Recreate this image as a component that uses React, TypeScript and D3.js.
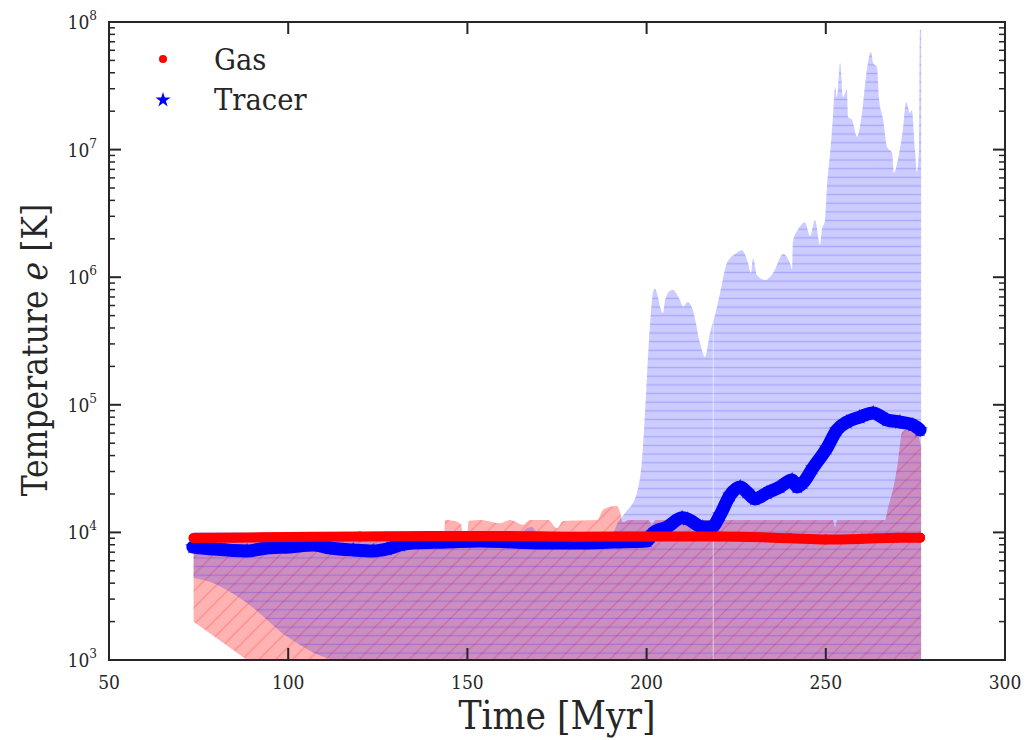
import React from 'react';
import * as d3 from 'd3';

// ---------- data ----------
const GAS_TIME = [73.6, 85, 100, 120, 140, 160, 180, 200, 220, 240, 250, 260, 270, 276.3];
const GAS_TEMP = [9040, 9100, 9200, 9300, 9370, 9370, 9250, 9300, 9300, 9000, 8800, 8900, 9100, 9100];

const TRACER_TIME = [73.4, 79.0, 88.5, 94.1, 100.5, 106.9, 111.7, 118.1, 123.7, 127.6, 131.2, 134.8, 144.3, 153.5, 162.7, 172.2, 181.4, 190.6, 200.1, 201.8, 205.7, 209.9, 211.5, 215.7, 218.2, 220.5, 223.3, 226.1, 228.0, 230.2, 233.6, 237.2, 240.6, 242.0, 243.6, 246.4, 250.3, 253.1, 255.9, 259.5, 263.2, 267.1, 270.7, 274.3, 276.3];
const TRACER_TEMP = [7690, 7410, 7150, 7550, 7690, 7960, 7550, 7280, 7150, 7410, 7960, 8260, 8410, 8570, 8410, 8260, 8260, 8410, 8570, 9890, 11000, 13000, 12700, 11000, 11000, 13700, 19600, 22700, 20700, 18300, 20400, 22700, 25800, 22700, 24400, 32000, 45800, 63500, 73300, 80200, 86300, 76000, 73300, 69500, 63500];

const GAS_MAX_TIME = [73.6, 143.5, 143.8, 146.5, 148.3, 148.6, 150.0, 150.3, 153.5, 159.1, 161.9, 165.5, 167.5, 172.5, 175.0, 176.7, 186.2, 187.8, 189.5, 191.7, 192.7, 193.3, 195.0, 200.5, 201.5, 202.5, 252.0, 252.6, 253.2, 266.5, 267.4, 268.5, 270.1, 271.3, 272.1, 275.4, 276.6];
const GAS_MAX = [10000, 10000, 12500, 12300, 11500, 10000, 10000, 12300, 12500, 11800, 12500, 11500, 12500, 12500, 10800, 12300, 12500, 15000, 15800, 16100, 14000, 12000, 12500, 12500, 11500, 12500, 12500, 11000, 12500, 12500, 15800, 20400, 35000, 61200, 63500, 60100, 46700];
const GAS_MIN_TIME = [73.6, 88.5, 100, 276.6];
const GAS_MIN = [1990, 1000, 590, 500];

const TRACER_MAX_TIME = [73.6, 165.0, 166.5, 168.0, 169.5, 190.5, 192.0, 194.0, 197.3, 198.7, 199.6, 200.9, 201.8, 202.3, 204.6, 205.1, 206.5, 207.3, 209.3, 210.2, 211.5, 212.9, 214.9, 216.3, 217.7, 219.1, 220.5, 222.4, 224.7, 226.6, 228.3, 229.1, 229.7, 230.8, 233.0, 235.3, 238.1, 240.0, 240.6, 240.8, 242.2, 244.2, 245.6, 247.0, 248.4, 248.9, 249.8, 250.3, 251.2, 252.0, 252.6, 253.1, 254.0, 254.8, 255.9, 256.2, 257.3, 258.7, 260.1, 261.2, 262.6, 263.2, 264.3, 264.8, 266.0, 267.1, 268.5, 269.0, 270.1, 271.5, 272.4, 273.5, 274.0, 274.9, 275.4, 276.0, 276.25, 276.6];
const TRACER_MAX = [10000, 10000, 10800, 11000, 10000, 10000, 12000, 14200, 20400, 36900, 91000, 407000, 766000, 809000, 524000, 650000, 780000, 794000, 663000, 590000, 640000, 553000, 305000, 237000, 366000, 506000, 752000, 1290000, 1520000, 1630000, 1290000, 1080000, 1410000, 1040000, 951000, 1080000, 1520000, 1290000, 1150000, 1890000, 2340000, 2700000, 2100000, 2800000, 1790000, 2340000, 2810000, 5090000, 9400000, 18000000, 31000000, 25800000, 47700000, 25800000, 29300000, 18000000, 17100000, 12600000, 19400000, 37100000, 58200000, 47700000, 44400000, 25800000, 17100000, 10500000, 9400000, 6560000, 8290000, 14300000, 23600000, 19400000, 20400000, 9930000, 6670000, 9930000, 86500000, 86500000];
const TRACER_MIN_TIME = [73.6, 79.0, 83.8, 88.5, 93.2, 97.9, 102.5, 107.2, 111.8, 116.0, 125.0, 276.6];
const TRACER_MIN = [4390, 4020, 3410, 2800, 2170, 1660, 1360, 1135, 1018, 985, 850, 850];

const SEAM_TIME = 218.6;

const X_TICKS = [50, 100, 150, 200, 250, 300];
const Y_EXPONENTS = [3, 4, 5, 6, 7, 8];
const LEGEND_LABELS = ['Gas', 'Tracer'];

// ---------- layout ----------
const W = 1031;
const H = 740;
const L = 109, R = 1005, T = 22, B = 660;
const INK = '#262626';
const FONT = '"DejaVu Serif Condensed", "DejaVu Serif", serif';

export default function App() {
  const x = d3.scaleLinear().domain([50, 300]).range([L, R]);
  const y = d3.scaleLog().domain([1e3, 1e8]).range([B, T]);

  const smooth = d3.line<[number, number]>().curve(d3.curveMonotoneX);
  const band = (tu: number[], vu: number[], tl: number[], vl: number[]) => {
    const up: [number, number][] = tu.map((t, i) => [x(t), y(vu[i])]);
    const lo: [number, number][] = tl.map((t, i) => [x(t), y(vl[i])]).reverse() as [number, number][];
    const a = smooth(up) || '';
    const b = (smooth(lo) || '').replace(/^M/, 'L');
    return a + b + 'Z';
  };

  const gasBand = band(GAS_MAX_TIME, GAS_MAX, GAS_MIN_TIME, GAS_MIN);
  const tracerBand = band(TRACER_MAX_TIME, TRACER_MAX, TRACER_MIN_TIME, TRACER_MIN);

  const lineGen = d3.line<[number, number]>().x(d => x(d[0])).y(d => y(d[1])).curve(d3.curveMonotoneX);
  const gasPts: [number, number][] = GAS_TIME.map((t, i) => [t, GAS_TEMP[i]]);
  const trPts: [number, number][] = TRACER_TIME.map((t, i) => [t, TRACER_TEMP[i]]);

  const star = d3.symbol().type(d3.symbolStar).size(75)() || '';
  const starLegend = d3.symbol().type(d3.symbolStar).size(70)() || '';

  const seamIdx = d3.bisectLeft(TRACER_MAX_TIME, SEAM_TIME);
  const t0 = TRACER_MAX_TIME[seamIdx - 1], t1 = TRACER_MAX_TIME[seamIdx];
  const y0 = y(TRACER_MAX[seamIdx - 1]), y1 = y(TRACER_MAX[seamIdx]);
  const seamTop = y0 + ((SEAM_TIME - t0) / (t1 - t0)) * (y1 - y0);

  const minorTicks: number[] = [];
  for (let e = 3; e < 8; e++) for (let m = 2; m <= 9; m++) minorTicks.push(m * Math.pow(10, e));

  const hs = 16.7;

  return (
    <svg width={W} height={H} style={{ position: 'absolute', left: 0, top: 0, background: '#fff' }}>
      <defs>
        <clipPath id="plotClip">
          <rect x={L} y={T} width={R - L} height={B - T} />
        </clipPath>
        <pattern id="hatchRed" patternUnits="userSpaceOnUse" width={hs} height={hs}>
          <path d={`M0,${hs} L${hs},0 M${-hs / 4},${hs / 4} L${hs / 4},${-hs / 4} M${hs * 0.75},${hs * 1.25} L${hs * 1.25},${hs * 0.75}`}
            stroke="rgba(255,0,0,0.28)" strokeWidth={1} />
        </pattern>
        <pattern id="hatchBlue" patternUnits="userSpaceOnUse" width={20} height={8.65}>
          <line x1={0} x2={20} y1={4.3} y2={4.3} stroke="rgba(0,0,255,0.18)" strokeWidth={1.3} />
        </pattern>
      </defs>

      <g clipPath="url(#plotClip)">
        <path d={gasBand} fill="rgba(255,0,0,0.3)" />
        <path d={gasBand} fill="url(#hatchRed)" />
        <path d={tracerBand} fill="rgba(0,0,255,0.2)" />
        <path d={tracerBand} fill="url(#hatchBlue)" />
        <line x1={x(SEAM_TIME)} x2={x(SEAM_TIME)} y1={seamTop} y2={B} stroke="rgba(255,255,255,0.55)" strokeWidth={1} />

        {/* tracer */}
        <path d={lineGen(trPts) || ''} fill="none" stroke="#0000ff" strokeWidth={13} strokeLinejoin="round" strokeLinecap="round" />
        {trPts.map((p, i) => (
          <path key={'s' + i} d={star} transform={`translate(${x(p[0])},${y(p[1])})`} fill="#0000ff" />
        ))}
        {/* gas */}
        <path d={lineGen(gasPts) || ''} fill="none" stroke="#ff0000" strokeWidth={10} strokeLinejoin="round" strokeLinecap="round" />
        {gasPts.map((p, i) => (
          <circle key={'g' + i} cx={x(p[0])} cy={y(p[1])} r={5} fill="#ff0000" />
        ))}
      </g>

      {/* frame */}
      <rect x={L} y={T} width={R - L} height={B - T} fill="none" stroke={INK} strokeWidth={2} />

      {/* x ticks */}
      {X_TICKS.map(v => (
        <g key={'x' + v}>
          <line x1={x(v)} x2={x(v)} y1={B} y2={B - 12} stroke={INK} strokeWidth={2} />
          <line x1={x(v)} x2={x(v)} y1={T} y2={T + 12} stroke={INK} strokeWidth={2} />
          <text x={x(v)} y={689} textAnchor="middle" fontFamily={FONT} fontSize={19} fill={INK}>{v}</text>
        </g>
      ))}

      {/* y ticks */}
      {Y_EXPONENTS.map(e => {
        const yy = y(Math.pow(10, e));
        return (
          <g key={'y' + e}>
            <line x1={L} x2={L + 12} y1={yy} y2={yy} stroke={INK} strokeWidth={2} />
            <line x1={R} x2={R - 12} y1={yy} y2={yy} stroke={INK} strokeWidth={2} />
            <text x={97} y={yy + 7} textAnchor="end" fontFamily={FONT} fontSize={19} fill={INK}>
              10<tspan fontSize={13.5} dy={-9}>{e}</tspan>
            </text>
          </g>
        );
      })}
      {minorTicks.map((v, i) => (
        <g key={'m' + i}>
          <line x1={L} x2={L + 6} y1={y(v)} y2={y(v)} stroke={INK} strokeWidth={1.5} />
          <line x1={R} x2={R - 6} y1={y(v)} y2={y(v)} stroke={INK} strokeWidth={1.5} />
        </g>
      ))}

      {/* axis labels */}
      <text x={(L + R) / 2} y={729} textAnchor="middle" fontFamily={FONT} fontSize={38.5} fill={INK}>Time [Myr]</text>
      <text transform={`translate(47,350) rotate(-90)`} textAnchor="middle" fontFamily={FONT} fontSize={35} fill={INK}>
        Temperature <tspan fontStyle="italic">e</tspan> [K]
      </text>

      {/* legend */}
      <circle cx={163} cy={59} r={4} fill="#ff0000" />
      <text x={214} y={70} fontFamily={FONT} fontSize={30.5} fill={INK}>{LEGEND_LABELS[0]}</text>
      <path d={starLegend} transform="translate(163,100)" fill="#0000ff" />
      <text x={214} y={110} fontFamily={FONT} fontSize={30.5} fill={INK}>{LEGEND_LABELS[1]}</text>
    </svg>
  );
}
